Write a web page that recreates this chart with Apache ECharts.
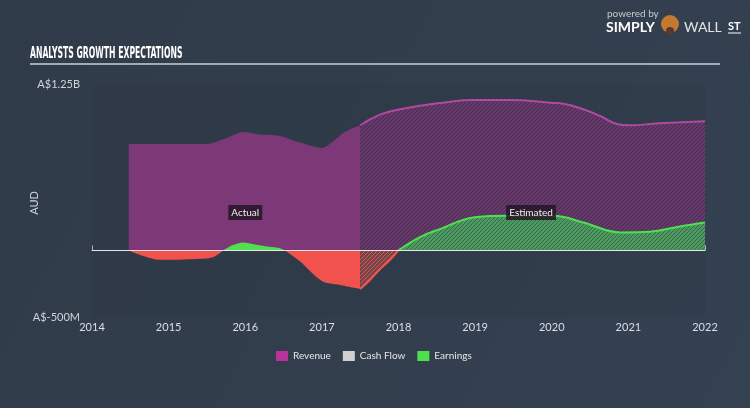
<!DOCTYPE html>
<html><head><meta charset="utf-8">
<script src="https://cdn.jsdelivr.net/npm/echarts@6/dist/echarts.min.js"></script>
<style>html,body{margin:0;padding:0;background:#333f4e}#c{width:750px;height:408px}</style>
</head><body><div id="c"></div>
<script>
// ---- data (years as decimals, values in A$ billions) ----
const revActualX = [2014.48, 2014.89, 2015.5, 2015.74, 2015.97, 2016.19, 2016.45, 2016.71, 2017.0, 2017.15, 2017.3, 2017.5];
const revActualV = [0.80, 0.80, 0.80, 0.84, 0.89, 0.87, 0.86, 0.81, 0.77, 0.82, 0.89, 0.94];
const revEstX = [2017.5, 2017.76, 2018.02, 2018.58, 2019.0, 2019.45, 2019.98, 2020.17, 2020.41, 2020.63, 2020.85, 2021.0, 2021.41, 2022.0];
const revEstV = [0.94, 1.02, 1.06, 1.11, 1.13, 1.13, 1.11, 1.10, 1.06, 1.01, 0.95, 0.94, 0.955, 0.97];
const earnActX = [2014.48, 2014.89, 2015.5, 2015.6, 2015.71, 2015.84, 2015.97, 2016.13, 2016.28, 2016.43, 2016.52, 2016.71, 2017.0, 2017.24, 2017.5];
const earnActV = [0, -0.07, -0.06, -0.045, 0, 0.04, 0.06, 0.045, 0.03, 0.02, 0, -0.08, -0.23, -0.26, -0.29];
const earnEstX = [2017.5, 2017.63, 2017.76, 2017.89, 2018.0, 2018.28, 2018.54, 2019.0, 2019.45, 2020.02, 2020.41, 2020.9, 2021.28, 2021.67, 2022.0];
const earnEstV = [-0.29, -0.22, -0.14, -0.07, 0, 0.10, 0.16, 0.25, 0.26, 0.26, 0.21, 0.135, 0.14, 0.18, 0.21];
const cashFlow = [];
const yTickLabels = {'-0.5': 'A$-500M', '1.25': 'A$1.25B'};
const legendNames = ['Revenue', 'Cash Flow', 'Earnings'];
const annotations = [{name: 'Actual', x: 2016.0, y: 0.285}, {name: 'Estimated', x: 2019.73, y: 0.285}];

const zip = (xs, vs) => xs.map((x, i) => [x, vs[i]]);

function splitBySign(xs, vs) {
  const runs = []; let cur = null;
  for (let i = 0; i < xs.length; i++) {
    const v = vs[i];
    if (v === 0) {
      if (cur) { cur.pts.push([xs[i], 0]); runs.push(cur); }
      cur = {sign: null, pts: [[xs[i], 0]]};
      continue;
    }
    const s = v > 0 ? 1 : -1;
    if (!cur) cur = {sign: s, pts: []};
    if (cur.sign === null) cur.sign = s;
    cur.pts.push([xs[i], v]);
  }
  if (cur && cur.pts.length > 1) runs.push(cur);
  return runs.filter(r => r.sign !== null);
}

function hatch(base, line, size) {
  const c = document.createElement('canvas'); c.width = c.height = size;
  const g = c.getContext('2d');
  g.fillStyle = base; g.fillRect(0, 0, size, size);
  g.strokeStyle = line; g.lineWidth = 1;
  g.beginPath();
  g.moveTo(0, size); g.lineTo(size, 0);
  g.moveTo(-1, 1); g.lineTo(1, -1);
  g.moveTo(size - 1, size + 1); g.lineTo(size + 1, size - 1);
  g.stroke();
  return {image: c, repeat: 'repeat'};
}

const GREEN = '#4fe04f', RED = '#f2524d', MAG = '#b8329e';
const FONT = 'Lato';

const series = [];
series.push({
  name: 'Revenue', type: 'line', data: zip(revActualX, revActualV), smooth: 0.3, symbol: 'none',
  lineStyle: {width: 0}, itemStyle: {color: MAG},
  areaStyle: {color: '#7d3878', opacity: 1},
  markPoint: {
    symbol: 'rect', symbolSize: 0, z: 10,
    data: annotations.map(a => ({name: a.name, coord: [a.x, a.y]})),
    label: {show: true, position: 'inside', formatter: '{b}', color: '#eee', fontSize: 10, fontFamily: FONT,
      backgroundColor: 'rgba(35,22,38,0.85)', padding: [3, 3, 2, 3]}
  }
});
series.push({
  name: 'Revenue', type: 'line', data: zip(revEstX, revEstV), smooth: 0.5, symbol: 'none',
  lineStyle: {width: 2, color: '#b04aa0'}, itemStyle: {color: MAG},
  areaStyle: {color: hatch('#65396a', '#48294f', 4), opacity: 1}
});
series.push({name: 'Cash Flow', type: 'line', data: cashFlow, symbol: 'none', itemStyle: {color: '#d0d0d0'}});
splitBySign(earnActX, earnActV).forEach(r => {
  const col = r.sign > 0 ? GREEN : RED;
  series.push({name: 'Earnings', type: 'line', data: r.pts, smooth: 0.3, symbol: 'none',
    lineStyle: {width: 0}, itemStyle: {color: col}, areaStyle: {color: col, opacity: 1}});
});
splitBySign(earnEstX, earnEstV).forEach(r => {
  const pos = r.sign > 0;
  series.push({name: 'Earnings', type: 'line', data: r.pts, smooth: 0.4, symbol: 'none',
    lineStyle: {width: 2, color: pos ? GREEN : RED}, itemStyle: {color: pos ? GREEN : RED},
    areaStyle: {color: pos ? hatch('#4f9a62', '#336b45', 4) : hatch('#7a4447', '#c85a58', 4), opacity: 1}});
});
// zero line
series[series.length - 1].markLine = {
  silent: true, symbol: 'none', z: 9, label: {show: false},
  lineStyle: {color: '#e6e6e6', width: 1, type: 'solid'},
  data: [{yAxis: 0}]
};

const chart = echarts.init(document.getElementById('c'), null, {renderer: 'canvas'});
chart.setOption({
  backgroundColor: {type: 'linear', x: 0, y: 0, x2: 1, y2: 1, colorStops: [{offset: 0, color: '#303b49'}, {offset: 1, color: '#344150'}]},
  animation: false,
  grid: {left: 92, right: 45, top: 84, bottom: 91, show: true, backgroundColor: 'rgba(0,0,0,0.035)', borderWidth: 0},
  legend: {
    data: legendNames.map((n, i) => ({name: n, itemStyle: {color: [MAG, '#d0d0d0', GREEN][i]}})),
    left: 276, top: 351, padding: 0, icon: 'rect', itemWidth: 12, itemHeight: 10, itemGap: 12,
    textStyle: {color: '#e6e6e6', fontSize: 10, fontFamily: FONT}, selectedMode: false
  },
  xAxis: {
    type: 'value', min: 2014, max: 2022, interval: 1,
    axisLine: {show: true, lineStyle: {color: '#aab4be', width: 1}},
    axisTick: {show: true, inside: true, length: 5, lineStyle: {color: '#aab4be'}},
    axisLabel: {color: '#dde', fontSize: 11, fontFamily: FONT, margin: 5, formatter: v => String(v)},
    splitLine: {show: false}
  },
  yAxis: {
    type: 'value', min: -0.5, max: 1.25, interval: 1.75,
    axisLine: {show: false}, axisTick: {show: false}, splitLine: {show: false},
    axisLabel: {color: '#cfd4da', fontSize: 11, fontFamily: FONT, margin: 12,
      formatter: v => yTickLabels[String(+v.toFixed(2))] || ''}
  },
  series: series,
  graphic: [
    {type: 'text', x: 34, y: 203, rotation: Math.PI / 2, style: {text: 'AUD', fill: '#cfd4da', font: '11px Lato', align: 'center', verticalAlign: 'middle'}},
    {type: 'text', left: 30, top: 46, scaleX: 0.535, style: {text: 'ANALYSTS GROWTH EXPECTATIONS', fill: '#ffffff',
      font: 'bold 16px "Liberation Sans Narrow", "DejaVu Sans Condensed", sans-serif'}},
    {type: 'line', shape: {x1: 30, y1: 64, x2: 720, y2: 64}, style: {stroke: '#c9d1d9', lineWidth: 1.5}},
    {type: 'text', left: 607, top: 9, style: {text: 'powered by', fill: '#c5cad0', font: '10px Lato'}},
    {type: 'text', left: 606, top: 20, style: {text: 'SIMPLY', fill: '#ffffff', font: 'bold 14px Lato'}},
    {type: 'circle', shape: {cx: 670, cy: 24, r: 9}, style: {fill: '#c27a30'}},
    {type: 'circle', shape: {cx: 670, cy: 31, r: 4}, style: {fill: '#5a3a2a'}},
    {type: 'text', left: 684, top: 20, style: {text: 'WALL', fill: '#e0e4e8', font: '14px Lato'}},
    {type: 'text', left: 728, top: 21, style: {text: 'ST', fill: '#ffffff', font: 'bold 11px Lato'}},
    {type: 'line', shape: {x1: 728, y1: 33, x2: 741, y2: 33}, style: {stroke: '#ffffff', lineWidth: 1}}
  ]
});
</script></body></html>
